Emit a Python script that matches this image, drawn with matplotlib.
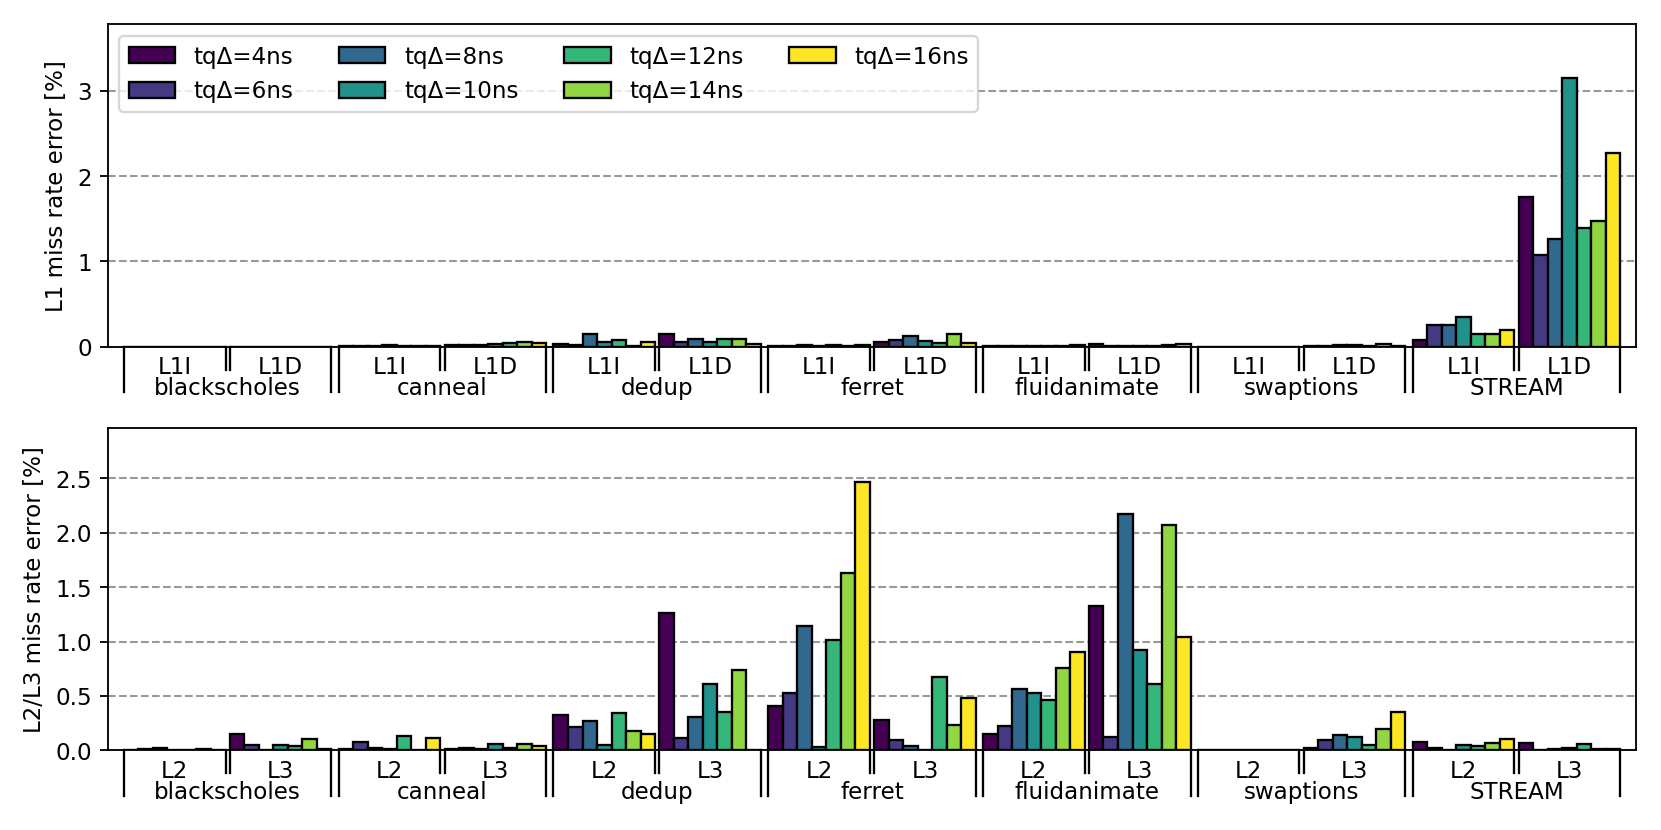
import numpy as np
import matplotlib
matplotlib.use("Agg")
import matplotlib.pyplot as plt
import matplotlib.transforms as mtransforms

benchmarks = ['blackscholes', 'canneal', 'dedup', 'ferret', 'fluidanimate', 'swaptions', 'STREAM']
tq_labels = ['tqΔ=4ns', 'tqΔ=6ns', 'tqΔ=8ns', 'tqΔ=10ns', 'tqΔ=12ns', 'tqΔ=14ns', 'tqΔ=16ns']

# top panel: [benchmark][cache] -> 7 values (4ns..16ns)
l1i = [
    [0.0, 0.0, 0.0, 0.0, 0.0, 0.0, 0.0],
    [0.01, 0.005, 0.005, 0.02, 0.005, 0.01, 0.01],
    [0.027, 0.015, 0.145, 0.05, 0.075, 0.003, 0.06],
    [0.005, 0.005, 0.02, 0.005, 0.02, 0.005, 0.025],
    [0.01, 0.003, 0.01, 0.003, 0.01, 0.01, 0.015],
    [0.0, 0.0, 0.0, 0.0, 0.0, 0.0, 0.0],
    [0.075, 0.255, 0.255, 0.35, 0.15, 0.145, 0.2],
]
l1d = [
    [0.0, 0.0, 0.0, 0.0, 0.0, 0.0, 0.0],
    [0.02, 0.02, 0.02, 0.03, 0.045, 0.05, 0.04],
    [0.145, 0.055, 0.085, 0.055, 0.093, 0.085, 0.027],
    [0.058, 0.078, 0.12, 0.066, 0.047, 0.152, 0.047],
    [0.03, 0.01, 0.01, 0.003, 0.01, 0.02, 0.03],
    [0.003, 0.01, 0.015, 0.015, 0.003, 0.03, 0.003],
    [1.75, 1.07, 1.26, 3.15, 1.39, 1.47, 2.27],
]

# bottom panel
l2 = [
    [0.005, 0.01, 0.02, 0.005, 0.002, 0.015, 0.005],
    [0.01, 0.076, 0.02, 0.015, 0.135, 0.003, 0.11],
    [0.32, 0.21, 0.27, 0.05, 0.34, 0.18, 0.15],
    [0.405, 0.53, 1.14, 0.03, 1.01, 1.63, 2.47],
    [0.15, 0.22, 0.56, 0.525, 0.46, 0.76, 0.90],
    [0.003, 0.003, 0.003, 0.005, 0.003, 0.003, 0.005],
    [0.077, 0.02, 0.005, 0.048, 0.04, 0.07, 0.105],
]
l3 = [
    [0.147, 0.045, 0.005, 0.045, 0.035, 0.10, 0.01],
    [0.015, 0.02, 0.01, 0.06, 0.025, 0.058, 0.04],
    [1.26, 0.115, 0.31, 0.61, 0.35, 0.74, 0.003],
    [0.28, 0.09, 0.04, 0.003, 0.675, 0.23, 0.485],
    [1.325, 0.12, 2.17, 0.92, 0.61, 2.07, 1.046],
    [0.02, 0.09, 0.145, 0.12, 0.045, 0.2, 0.355],
    [0.065, 0.003, 0.01, 0.02, 0.055, 0.01, 0.01],
]

colors = plt.cm.viridis(np.linspace(0, 1, 7))

plt.rcParams['font.size'] = 10

fig = plt.figure(figsize=(10, 5), dpi=166.1)
ax1 = fig.add_axes([0.065, 0.582, 0.92, 0.388])
ax2 = fig.add_axes([0.065, 0.096, 0.92, 0.388])

BENCH_STEP = 14.8
SUB_OFF = 7.3


def draw_panel(ax, first, second, sub_names, ylabel, legend=False):
    n = len(tq_labels)
    for b in range(len(benchmarks)):
        for s, vals in enumerate([first[b], second[b]]):
            start = b * BENCH_STEP + s * SUB_OFF
            xs = start + np.arange(n) + 0.5
            for i in range(n):
                ax.bar(xs[i], vals[i], width=1.0, color=colors[i], edgecolor='black',
                       linewidth=1.0, label=tq_labels[i] if (b == 0 and s == 0) else None,
                       zorder=3)

    # nested x labels drawn under the axis
    trans = mtransforms.blended_transform_factory(ax.transData, ax.transAxes)
    for b, name in enumerate(benchmarks):
        b0 = b * BENCH_STEP
        for s in range(2):
            start = b0 + s * SUB_OFF
            end = start + n
            for x, outer in [(start, s == 0), (end, s == 1)]:
                ax.plot([x, x], [0, -0.142 if outer else -0.072], color='black', lw=1.0,
                        transform=trans, clip_on=False)
            ax.text((start + end) / 2, -0.063, sub_names[s], transform=trans,
                    ha='center', va='center')
        ax.text(b0 + (SUB_OFF + n) / 2, -0.128, name, transform=trans, ha='center', va='center')

    total = (len(benchmarks) - 1) * BENCH_STEP + SUB_OFF + n
    ax.set_xlim(-1.1, total + 1.1)
    ax.set_xticks([])
    top = max(max(max(v) for v in first), max(max(v) for v in second))
    ax.set_ylim(0, top * 1.2)
    ax.set_ylabel(ylabel)
    ax.set_axisbelow(True)
    ax.yaxis.grid(True, linestyle='--', color='gray', alpha=0.8, linewidth=0.9)
    if legend:
        ax.legend(loc='upper left', ncol=4)


draw_panel(ax1, l1i, l1d, ['L1I', 'L1D'], 'L1 miss rate error [%]', legend=True)
draw_panel(ax2, l2, l3, ['L2', 'L3'], 'L2/L3 miss rate error [%]')
ax1.set_yticks([0, 1, 2, 3])
ax2.set_yticks([0.0, 0.5, 1.0, 1.5, 2.0, 2.5])

fig.savefig('out.png', dpi=166.1)
